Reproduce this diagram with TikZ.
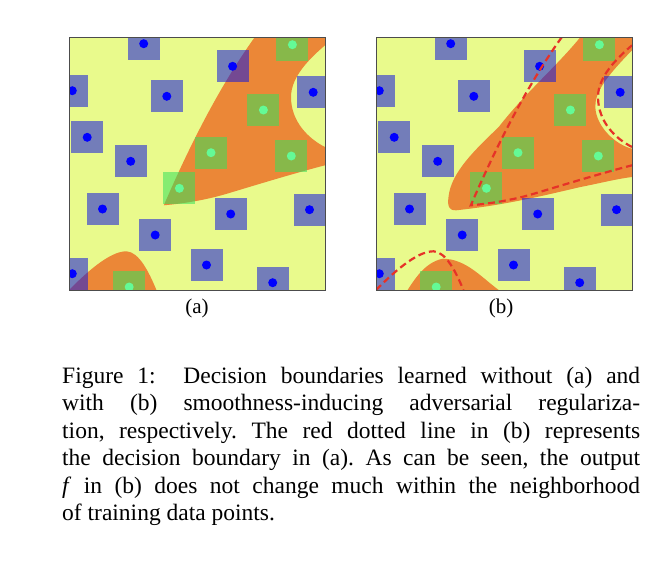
\documentclass[tikz,border=0pt]{standalone}
\usepackage{fontspec}
\setmainfont{Liberation Serif}
\frenchspacing
\begin{document}
\begin{tikzpicture}[x=1pt,y=-1pt,
  bsq/.style={fill={rgb,255:red,19;green,23;blue,222},fill opacity=0.55},
  gsq/.style={fill={rgb,255:red,53;green,226;blue,91},fill opacity=0.55},
  bdot/.style={fill={rgb,255:red,0;green,0;blue,255}},
  gdot/.style={fill={rgb,255:red,100;green,250;blue,150}},
  org/.style={fill={rgb,255:red,235;green,135;blue,55}},
  redd/.style={draw={rgb,255:red,230;green,50;blue,40},line width=2.2pt,dash pattern=on 7pt off 4pt},
  captxt/.style={anchor=base west,inner sep=0pt,font=\fontsize{23.5}{27}\selectfont}]
\useasboundingbox (0,0) rectangle (668,560);
\definecolor{yel}{RGB}{233,250,140}
\newcommand\pts{%
  \foreach \x/\y in {74.7/6.7,163.6/29.3,3.3/53.7,97.8/59.3,244.2/55.3,18.2/100.3,61.7/124.3,33.5/172,161.7/177,240.5/172.7,86.2/198,137.5/228,3.3/236.7,203.7/245.7}{
    \fill[bsq] (\x-16,\y-16) rectangle (\x+16,\y+16);
    \fill[bdot] (\x,\y) circle (4.5);}
  \foreach \x/\y in {223.4/7.7,194.4/73,142/115.7,222.3/119,110.4/151.3,60.2/250}{
    \fill[gsq] (\x-16,\y-16) rectangle (\x+16,\y+16);
    \fill[gdot] (\x,\y) circle (4.5);}}
% panel a
\begin{scope}[shift={(69,37)}]
 \clip (0,0) rectangle (256,253);
 \fill[yel] (0,0) rectangle (256,253);
 \fill[org] (185.9,0) .. controls (150,50) and (120,110) .. (94.8,168.3)
   .. controls (120,166) and (140,162) .. (158,156.7)
   .. controls (200,144) and (230,135) .. (256,128.3) -- (256,110)
   .. controls (240,102) and (222,85) .. (222,60) .. controls (222,40) and (240,22) .. (256,8.3) -- (256,0) -- cycle;
 \fill[org] (0,253) .. controls (15,238) and (40,214) .. (57.6,214.3) .. controls (70,215) and (80,235) .. (87.4,253) -- cycle;
 \pts
\end{scope}
\draw[black!70,line width=0.8pt] (69,37) rectangle (325,290);
% panel b
\begin{scope}[shift={(376,37)}]
 \clip (0,0) rectangle (256,253);
 \fill[yel] (0,0) rectangle (256,253);
 \fill[org] (204.5,0) .. controls (180,30) and (150,55) .. (122.7,90)
   .. controls (100,112) and (75,135) .. (72.5,160) .. controls (71,170) and (74,174) .. (80,173.3)
   .. controls (130,168) and (170,158) .. (204.5,150) .. controls (225,146) and (240,142) .. (256,140) -- (256,111.7)
   .. controls (240,108) and (220,90) .. (219.3,70) .. controls (219,55) and (230,40) .. (256,13.3) -- (256,0) -- cycle;
 \fill[org] (31.6,253) .. controls (40,240) and (50,225) .. (66.9,221.7) .. controls (90,222) and (105,240) .. (122.7,253) -- cycle;
 \pts
 \draw[redd] (185.9,0) .. controls (150,50) and (120,110) .. (94.8,168.3)
   .. controls (120,166) and (140,162) .. (158,156.7)
   .. controls (200,144) and (230,135) .. (256,128.3);
 \draw[redd] (256,110)
   .. controls (240,102) and (222,85) .. (222,60) .. controls (222,40) and (240,22) .. (256,8.3);
 \draw[redd] (0,253) .. controls (15,238) and (40,214) .. (57.6,214.3) .. controls (70,215) and (80,235) .. (87.4,253);
\end{scope}
\draw[black!70,line width=0.8pt] (376,37) rectangle (632,290);
\node[font=\fontsize{21}{24}\selectfont] (la) at (197,308) {(a)};
\node[font=\fontsize{21}{24}\selectfont] (lb) at (501,308) {(b)};
\node[captxt] (c1) at (62,383) {\makebox[578pt][s]{Figure 1:\ \ Decision boundaries learned without (a) and}};
\node[captxt] (c2) at (62,410.5) {\makebox[578pt][s]{with (b) smoothness-inducing adversarial regulariza-}};
\node[captxt] (c3) at (62,438) {\makebox[578pt][s]{tion, respectively. The red dotted line in (b) represents}};
\node[captxt] (c4) at (62,465.5) {\makebox[578pt][s]{the decision boundary in (a). As can be seen, the output}};
\node[captxt] (c5) at (62,493) {\makebox[578pt][s]{\textit{f} in (b) does not change much within the neighborhood}};
\node[captxt] (c6) at (62,520.5) {of training data points.};
\end{tikzpicture}
\end{document}
